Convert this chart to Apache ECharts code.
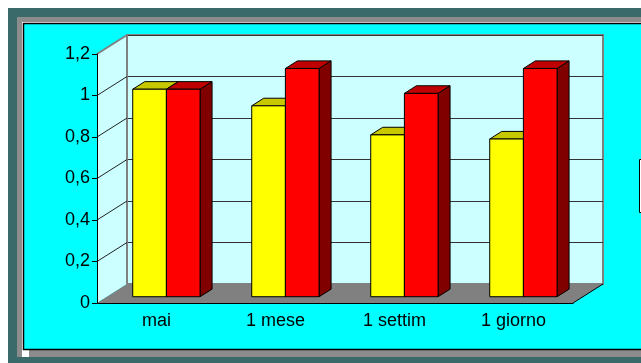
<!DOCTYPE html>
<html>
<head>
<meta charset="utf-8">
<script src="https://cdn.jsdelivr.net/npm/echarts@6/dist/echarts.min.js"></script>
<style>
  html, body { margin: 0; padding: 0; background: #ffffff; }
  #chart { width: 641px; height: 363px; }
</style>
</head>
<body>
<div id="chart"></div>
<script>
// dati
const categories = ['mai', '1 mese', '1 settim', '1 giorno'];
const serieGialla = [1, 0.92, 0.78, 0.76];
const serieRossa = [1, 1.1, 0.98, 1.1];
const yTicks = [0, 0.2, 0.4, 0.6, 0.8, 1, 1.2];
const yLabels = ['0', '0,2', '0,4', '0,6', '0,8', '1', '1,2'];

// profondita' della vista 3D
const DX = 30, DY = -19;
const FONT = 'Liberation Sans, Arial, sans-serif';

const chart = echarts.init(document.getElementById('chart'));

function renderFrame(params, api) {
  const bw = api.size([1, 0])[0];
  const p0 = api.coord([0, 0]);
  const left = p0[0] - bw / 2;
  const bottom = p0[1];
  const right = api.coord([categories.length - 1, 0])[0] + bw / 2;
  const top = api.coord([0, yTicks[yTicks.length - 1]])[1];
  const children = [
    {
      type: 'polygon',
      shape: { points: [[left, bottom], [left, top], [left + DX, top + DY], [left + DX, bottom + DY]] },
      style: { fill: '#ccffff', stroke: null }
    },
    {
      type: 'polygon',
      shape: { points: [[left, bottom], [right, bottom], [right + DX, bottom + DY], [left + DX, bottom + DY]] },
      style: { fill: '#808080', stroke: null }
    },
    {
      type: 'line',
      shape: { x1: right, y1: bottom, x2: right + DX, y2: bottom + DY },
      style: { stroke: '#000', lineWidth: 1 }
    },
    {
      type: 'line',
      shape: { x1: left + DX, y1: top + DY, x2: left + DX, y2: bottom + DY },
      style: { stroke: '#808080', lineWidth: 2 }
    },
    {
      type: 'line',
      shape: { x1: left, y1: top, x2: left + DX, y2: top + DY },
      style: { stroke: '#808080', lineWidth: 2 }
    }
  ];
  yTicks.slice(1, -1).forEach(function (v) {
    const y = api.coord([0, v])[1];
    children.push({
      type: 'line',
      shape: { x1: left, y1: y, x2: left + DX, y2: y + DY },
      style: { stroke: '#222', lineWidth: 1 }
    });
  });
  return { type: 'group', children: children };
}

function barRenderer(side, front, topColor, sideColor) {
  return function (params, api) {
    const idx = api.value(0);
    const base = api.coord([idx, 0]);
    const head = api.coord([idx, api.value(1)]);
    const bw = api.size([1, 0])[0];
    const w = bw * 0.283;
    const sx = DX * 0.33, sy = DY * 0.33;
    const ddx = DX * 0.4, ddy = DY * 0.4;
    const x0 = base[0] + sx + (side < 0 ? -w : 0);
    const yb = base[1] + sy;
    const yt = head[1] + sy;
    const st = { stroke: '#000', lineWidth: 1, lineJoin: 'miter' };
    return {
      type: 'group',
      children: [
        {
          type: 'polygon',
          shape: { points: [[x0 + w, yt], [x0 + w + ddx, yt + ddy], [x0 + w + ddx, yb + ddy], [x0 + w, yb]] },
          style: Object.assign({ fill: sideColor }, st)
        },
        {
          type: 'polygon',
          shape: { points: [[x0, yt], [x0 + w, yt], [x0 + w + ddx, yt + ddy], [x0 + ddx, yt + ddy]] },
          style: Object.assign({ fill: topColor }, st)
        },
        {
          type: 'rect',
          shape: { x: x0, y: yt, width: w, height: yb - yt },
          style: Object.assign({ fill: front }, st)
        }
      ]
    };
  };
}

chart.setOption({
  animation: false,
  backgroundColor: '#ffffff',
  graphic: [
    { type: 'rect', z: -10, shape: { x: 8, y: 8, width: 640, height: 360 }, style: { fill: '#3a6a6a' } },
    { type: 'rect', z: -10, shape: { x: 17, y: 17, width: 640, height: 340 }, style: { fill: '#8c8c8c' } },
    { type: 'rect', z: -10, shape: { x: 22, y: 22, width: 640, height: 335 }, style: { fill: '#ffffff' } },
    { type: 'rect', z: -10, shape: { x: 29, y: 29, width: 640, height: 328 }, style: { fill: '#8c8c8c' } },
    { type: 'rect', z: -10, shape: { x: 23.5, y: 23.5, width: 640, height: 326 }, style: { fill: '#00ffff', stroke: '#000', lineWidth: 1.5 } },
    { type: 'rect', z: 10, shape: { x: 639.5, y: 159.5, width: 40, height: 53 }, style: { fill: '#ffffff', stroke: '#000', lineWidth: 1 } }
  ],
  grid: [
    { left: 97, top: 54, width: 476, height: 249 },
    { left: 97 + DX, top: 54 + DY, width: 476, height: 249, show: true, backgroundColor: '#ccffff', borderColor: '#808080', borderWidth: 2 }
  ],
  xAxis: [
    {
      type: 'category', gridIndex: 0, data: categories, z: 10,
      axisLine: { lineStyle: { color: '#000', width: 1 } },
      axisTick: { length: 4, lineStyle: { color: '#000' } },
      axisLabel: { color: '#000', fontFamily: FONT, fontSize: 18, margin: 9 }
    },
    {
      type: 'category', gridIndex: 1, data: categories, show: false
    }
  ],
  yAxis: [
    {
      type: 'value', gridIndex: 0, min: 0, max: 1.2, interval: 0.2, z: 10,
      axisLine: { show: true, lineStyle: { color: '#000', width: 1 } },
      axisTick: { show: true, length: 5, lineStyle: { color: '#000' } },
      splitLine: { show: false },
      axisLabel: {
        color: '#000', fontFamily: FONT, fontSize: 18, margin: 7,
        formatter: function (v, i) { return yLabels[i]; }
      }
    },
    {
      type: 'value', gridIndex: 1, min: 0, max: 1.2, interval: 0.2,
      axisLine: { show: false }, axisTick: { show: false }, axisLabel: { show: false },
      splitLine: { show: true, lineStyle: { color: '#333', width: 1 } }
    }
  ],
  series: [
    {
      type: 'custom', xAxisIndex: 0, yAxisIndex: 0, silent: true, z: 2,
      data: [[0, 0]],
      renderItem: renderFrame
    },
    {
      type: 'custom', xAxisIndex: 0, yAxisIndex: 0, silent: true, z: 3,
      data: serieGialla.map(function (v, i) { return [i, v]; }),
      renderItem: barRenderer(-1, '#ffff00', '#c8c800', '#808000')
    },
    {
      type: 'custom', xAxisIndex: 0, yAxisIndex: 0, silent: true, z: 4,
      data: serieRossa.map(function (v, i) { return [i, v]; }),
      renderItem: barRenderer(1, '#ff0000', '#c00000', '#800000')
    }
  ]
});
</script>
</body>
</html>
